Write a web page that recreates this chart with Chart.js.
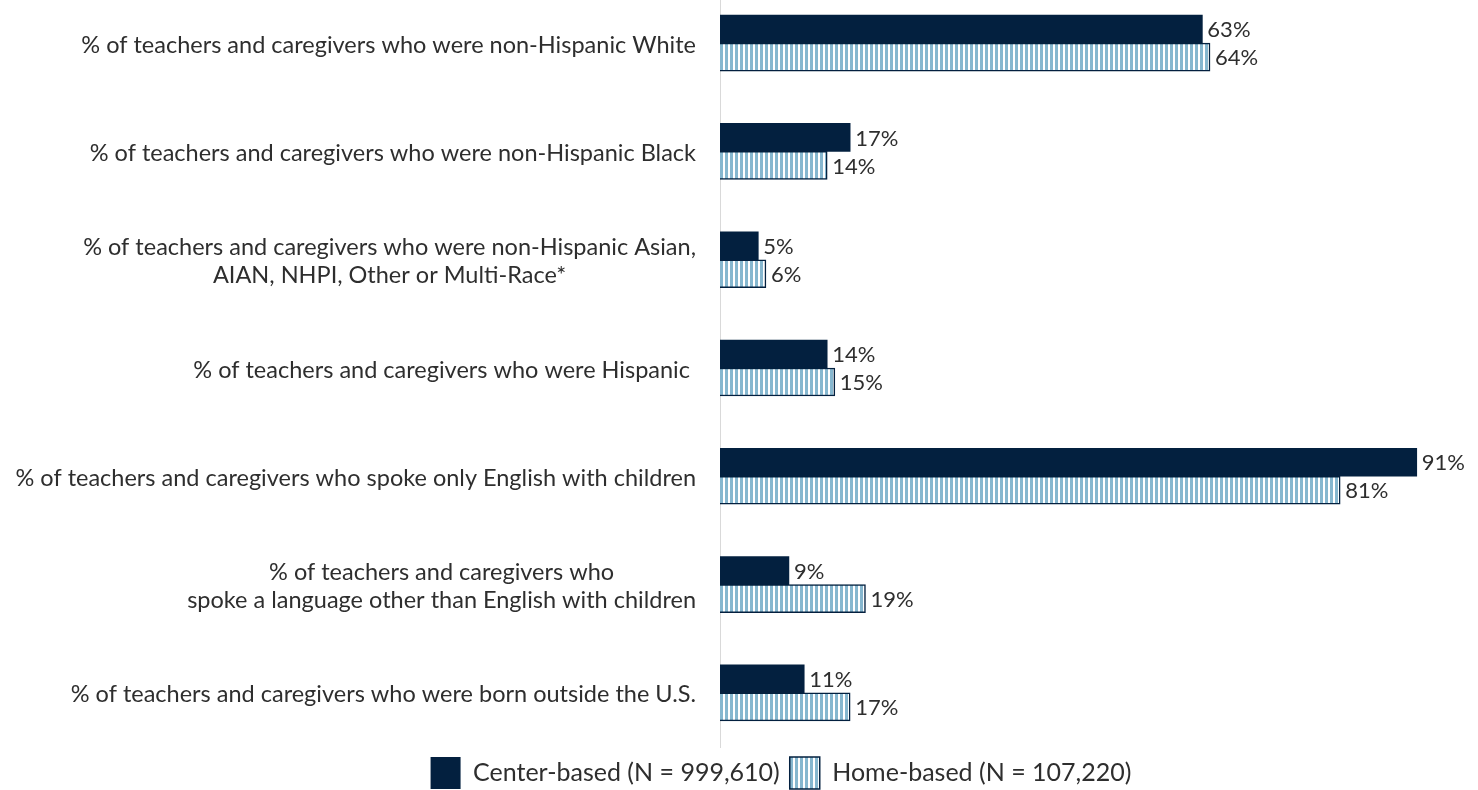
<!DOCTYPE html>
<html>
<head>
<meta charset="utf-8">
<script src="https://cdn.jsdelivr.net/npm/chart.js@4.4.1/dist/chart.umd.min.js"></script>
<style>
  html, body { margin: 0; padding: 0; background: #ffffff; overflow: hidden; }
  body { width: 1478px; height: 790px; position: relative; }
  /* canvas starts a little above the window so the first bar group sits near the top */
  #wrap { width: 1478px; height: 810px; position: absolute; left: 0; top: -11px; }
</style>
</head>
<body>
<div id="wrap"><canvas id="chart"></canvas></div>
<script>
const categories = [
  "% of teachers and caregivers who were non-Hispanic White",
  "% of teachers and caregivers who were non-Hispanic Black",
  ["% of teachers and caregivers who were non-Hispanic Asian,", "AIAN, NHPI, Other or Multi-Race*"],
  "% of teachers and caregivers who were Hispanic ",
  "% of teachers and caregivers who spoke only English with children",
  ["% of teachers and caregivers who", "spoke a language other than English with children"],
  "% of teachers and caregivers who were born outside the U.S."
];
const centerBased = [63, 17, 5, 14, 91, 9, 11];
const homeBased = [64, 14, 6, 15, 81, 19, 17];
const seriesNames = ["Center-based (N = 999,610)", "Home-based (N = 107,220)"];

const NAVY = "#03203f";
const TEXT = "#2e2e2e";
const FONT = "Lato, 'Open Sans', sans-serif";

// vertical light-blue / white stripes for the home-based bars
function stripePattern() {
  const c = document.createElement("canvas");
  c.width = 5;
  c.height = 4;
  const g = c.getContext("2d");
  g.fillStyle = "#ffffff";
  g.fillRect(0, 0, 5, 4);
  g.fillStyle = "#86b7cf";
  g.fillRect(0, 0, 3, 4);
  return g.createPattern(c, "repeat");
}

// category labels: each block is centred, blocks end at the same right edge
const categoryLabels = {
  id: "categoryLabels",
  afterDraw(chart) {
    const ctx = chart.ctx;
    const y = chart.scales.y;
    const right = chart.chartArea.left - 24;
    ctx.save();
    ctx.font = "23.5px " + FONT;
    ctx.fillStyle = TEXT;
    ctx.textAlign = "center";
    ctx.textBaseline = "middle";
    chart.data.labels.forEach((lab, i) => {
      const lines = Array.isArray(lab) ? lab : [lab];
      const widest = Math.max(...lines.map(l => ctx.measureText(l).width));
      const cx = right - widest / 2;
      const cy = y.getPixelForValue(i) + 2;
      const lh = 28;
      lines.forEach((l, k) => {
        ctx.fillText(l, cx, cy + (k - (lines.length - 1) / 2) * lh);
      });
    });
    ctx.restore();
  }
};

// value labels at the end of each bar
const valueLabels = {
  id: "valueLabels",
  afterDatasetsDraw(chart) {
    const ctx = chart.ctx;
    ctx.save();
    ctx.font = "22px " + FONT;
    ctx.fillStyle = TEXT;
    ctx.textAlign = "left";
    ctx.textBaseline = "middle";
    chart.data.datasets.forEach((ds, di) => {
      const meta = chart.getDatasetMeta(di);
      meta.data.forEach((bar, i) => {
        ctx.fillText(ds.data[i] + "%", bar.x + 5, bar.y + 1);
      });
    });
    ctx.restore();
  }
};

new Chart(document.getElementById("chart"), {
  type: "bar",
  data: {
    labels: categories,
    datasets: [
      {
        label: seriesNames[0],
        data: centerBased,
        backgroundColor: NAVY,
        borderColor: NAVY,
        borderWidth: 0,
        barThickness: 28
      },
      {
        label: seriesNames[1],
        data: homeBased,
        backgroundColor: stripePattern(),
        borderColor: NAVY,
        borderWidth: 1.5,
        barThickness: 28
      }
    ]
  },
  options: {
    indexAxis: "y",
    responsive: true,
    maintainAspectRatio: false,
    animation: false,
    layout: { padding: { left: 84, top: 0, right: 0, bottom: 0 } },
    scales: {
      x: {
        min: 0,
        max: 99,
        display: false
      },
      y: {
        grid: { display: false },
        border: { display: true, color: "#d9d9d9", width: 1 },
        ticks: { display: false },
        afterFit(scale) { scale.width = 636; }
      }
    },
    plugins: {
      legend: {
        position: "bottom",
        labels: {
          boxWidth: 30,
          boxHeight: 32,
          padding: 10,
          color: TEXT,
          font: { family: FONT, size: 25 }
        }
      },
      tooltip: { enabled: false }
    }
  },
  plugins: [categoryLabels, valueLabels]
});
</script>
</body>
</html>
